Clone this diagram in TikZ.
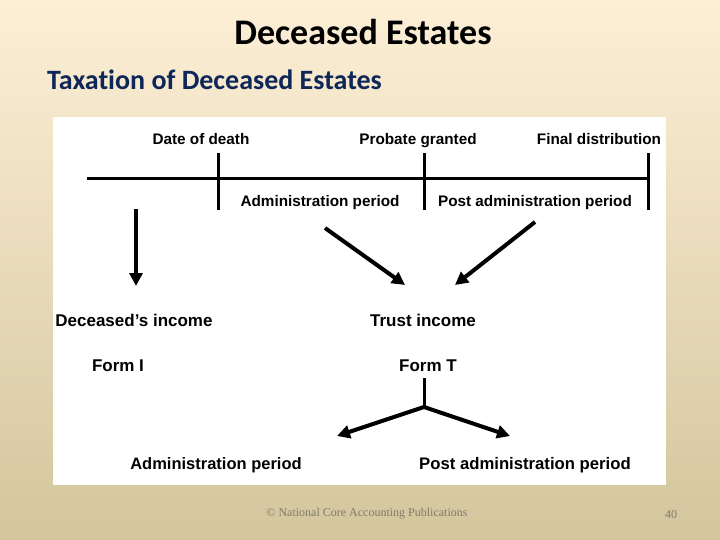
\documentclass[tikz,border=0pt]{standalone}
\usepackage{fontspec}
\setmainfont{Liberation Sans}
\newfontfamily\headfont[Ligatures=NoCommon]{Carlito}
\newfontfamily\footfont{Liberation Serif}
\usetikzlibrary{arrows.meta}
\definecolor{pagetop}{RGB}{253,239,214}
\definecolor{pagebottom}{RGB}{211,198,157}
\definecolor{headblue}{RGB}{15,38,88}
\definecolor{footgray}{RGB}{128,122,106}

\begin{document}
\begin{tikzpicture}[x=1pt,y=-1pt,
  small/.style={font=\bfseries\fontsize{15.3}{17}\selectfont,inner sep=0pt,anchor=base},
  big/.style={font=\bfseries\fontsize{17}{19}\selectfont,inner sep=0pt,anchor=base},
  bar/.style={line width=3pt},
  fat/.style={line width=4pt,-{Triangle[length=13pt,width=13pt]}}]
\useasboundingbox (0,0) rectangle (720,540);

% Slide background and white panel
\shade[top color=pagetop,bottom color=pagebottom] (0,0) rectangle (720,540);
\fill[white] (53,117) rectangle (666,485);

% Headings
\node[font=\headfont\bfseries\fontsize{36}{40}\selectfont,inner sep=0pt,anchor=base] (title) at (363,45) {Deceased Estates};
\node[font=\headfont\bfseries\fontsize{28}{32}\selectfont,text=headblue,inner sep=0pt,anchor=base west] (subtitle) at (47,90) {Taxation of Deceased Estates};

% Time line with its three marks
\coordinate (t0) at (87,179);
\coordinate (t1) at (650,179);
\coordinate (death top) at (218,153);
\coordinate (death bot) at (218,210);
\coordinate (probate top) at (424,153);
\coordinate (probate bot) at (424,210);
\coordinate (final top) at (648,153);
\coordinate (final bot) at (648,210);
\draw[bar] (t0) -- (t1);
\draw[bar] (death top) -- (death bot);
\draw[bar] (probate top) -- (probate bot);
\draw[bar] (final top) -- (final bot);

\node[small] (death) at (201,145) {Date of death};
\node[small] (probate) at (418,145) {Probate granted};
\node[small] (final) at (599,145) {Final distribution};
\node[small] (admin) at (320,207) {Administration period};
\node[small] (post) at (535,207) {Post administration period};

% Which return gets the income
\coordinate (a0) at (136,209);
\coordinate (a1) at (136,286);
\coordinate (b0) at (325,228);
\coordinate (b1) at (405,285);
\coordinate (c0) at (535,222);
\coordinate (c1) at (455,285);
\draw[fat] (a0) -- (a1);
\draw[fat] (b0) -- (b1);
\draw[fat] (c0) -- (c1);

\node[big] (deceased) at (134,326) {Deceased's income};
\node[big] (trust) at (423,326) {Trust income};
\node[big] (formI) at (118,371) {Form I};
\node[big] (formT) at (428,371) {Form T};

% Split of the trust return
\coordinate (fork top) at (424,378);
\coordinate (fork) at (424,407);
\coordinate (left end) at (337,436);
\coordinate (right end) at (510,436);
\draw[bar] (fork top) -- (fork);
\draw[fat] (fork) -- (left end);
\draw[fat] (fork) -- (right end);

\node[small,font=\bfseries\fontsize{16.5}{19}\selectfont] (admin low) at (216,469) {Administration period};
\node[small,font=\bfseries\fontsize{16.7}{19}\selectfont] (post low) at (525,469) {Post administration period};

% Footer
\node[font=\footfont\fontsize{12}{14}\selectfont,text=footgray,inner sep=0pt,anchor=base] (credit) at (367,516) {\textcopyright{} National Core Accounting Publications};
\node[font=\footfont\fontsize{12}{14}\selectfont,text=footgray,inner sep=0pt,anchor=base] (page) at (671,518) {40};
\end{tikzpicture}
\end{document}
